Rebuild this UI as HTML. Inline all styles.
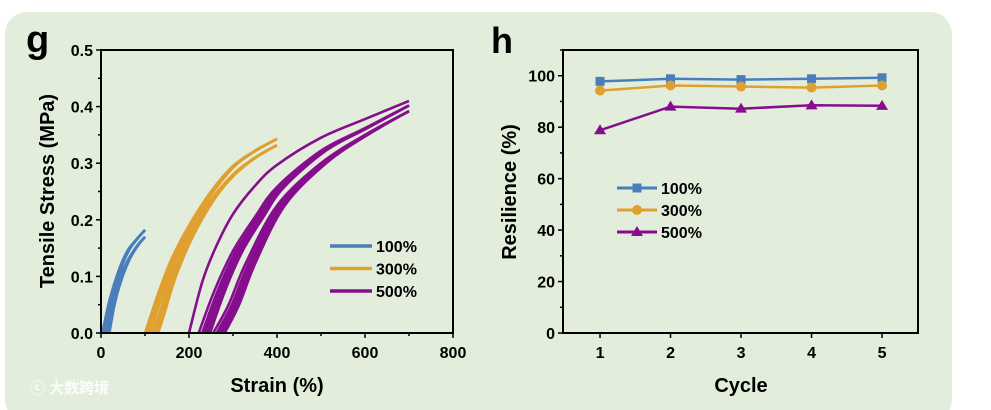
<!DOCTYPE html>
<html><head><meta charset="utf-8"><style>
html,body{margin:0;padding:0;background:#fff;}
svg{display:block;font-family:"Liberation Sans",Arial,sans-serif;font-weight:bold;}
</style></head><body>
<svg width="991" height="410" viewBox="0 0 991 410">
<rect x="5" y="12" width="947" height="410" rx="22" fill="#e2eedb"/>
<g id="gL"></g>
<g id="gR"></g>
<text x="26" y="52" font-size="38">g</text>
<text x="491" y="53" font-size="36">h</text>
<text x="30" y="393" font-size="15" fill="#fff" fill-opacity="0.85" font-family="Liberation Sans, Noto Sans CJK SC, sans-serif">ⓒ 大数跨境</text>
</svg>
<script>
// ---- Left chart data ----
const seriesNames = ["100%","300%","500%"];
const seriesColors = ["#4a7ebb","#e0a030","#860e8e"];
const xTicksL = [0,200,400,600,800];
const yTicksL = [0.0,0.1,0.2,0.3,0.4,0.5];
const yTickLabelsL = ["0.0","0.1","0.2","0.3","0.4","0.5"];
const load100 = [[3,0],[20,0.06],[40,0.11],[60,0.145],[80,0.165],[100,0.182]];
const unload100 = [[100,0.17],[80,0.152],[60,0.127],[40,0.09],[25,0.05],[12,0]];
const shift100 = [0,3,5,7];
const load300 = [[100,0],[130,0.07],[160,0.13],[200,0.19],[250,0.25],[300,0.295],[350,0.322],[400,0.343]];
const unload300 = [[400,0.332],[350,0.31],[300,0.28],[250,0.235],[200,0.17],[160,0.1],[135,0.04],[118,0]];
const shift300 = [0,5,9,12];
const firstLoad500 = [[200,0],[230,0.09],[260,0.15],[300,0.21],[350,0.26],[400,0.297],[500,0.345],[600,0.378],[700,0.41]];
const load500 = [[222,0],[258,0.075],[300,0.145],[350,0.205],[400,0.258],[500,0.322],[600,0.362],[700,0.402]];
const unload500 = [[700,0.392],[600,0.35],[500,0.3],[400,0.225],[330,0.125],[290,0.05],[255,0]];
const shift500 = [0,8,14,20,26];
// ---- Right chart data ----
const cycles = [1,2,3,4,5];
const res100 = [97.8,98.8,98.5,98.8,99.2];
const res300 = [94.2,96.2,95.8,95.4,96.2];
const res500 = [78.8,88.0,87.2,88.5,88.3];
const xTicksR = [1,2,3,4,5];
const yTicksR = [0,20,40,60,80,100];

const NS="http://www.w3.org/2000/svg";
function mk(p,tag,attrs){const e=document.createElementNS(NS,tag);for(const k in attrs)e.setAttribute(k,attrs[k]);p.appendChild(e);return e;}
function smooth(P){
  let d='M'+P[0][0].toFixed(1)+','+P[0][1].toFixed(1);
  for(let i=0;i<P.length-1;i++){
    const p0=P[i-1]||P[i],p1=P[i],p2=P[i+1],p3=P[i+2]||p2;
    const c1=[p1[0]+(p2[0]-p0[0])/6,p1[1]+(p2[1]-p0[1])/6],c2=[p2[0]-(p3[0]-p1[0])/6,p2[1]-(p3[1]-p1[1])/6];
    d+=` C${c1[0].toFixed(1)},${c1[1].toFixed(1)} ${c2[0].toFixed(1)},${c2[1].toFixed(1)} ${p2[0].toFixed(1)},${p2[1].toFixed(1)}`;
  }
  return d;
}

// Left axes
const L={x0:101,x1:453,y0:333,y1:50,xmin:0,xmax:800,ymin:0,ymax:0.5};
const sxL=v=>L.x0+(v-L.xmin)/(L.xmax-L.xmin)*(L.x1-L.x0);
const syL=v=>L.y0-(v-L.ymin)/(L.ymax-L.ymin)*(L.y0-L.y1);
const gL=document.getElementById('gL');
function curve(pts,dx,ci,name){
  const xs=pts.map(p=>p[0]);const xe=Math.max(...xs),xs0=Math.min(...xs);
  const P=pts.map(p=>[sxL(p[0]+dx*(xe-p[0])/(xe-xs0)),syL(p[1])]);
  const e=mk(gL,'path',{d:smooth(P),fill:'none',stroke:seriesColors[ci],'stroke-width':2.6,'stroke-linejoin':'round'});
  
  
}
shift100.forEach(s=>{curve(load100,s,0,'curve-100-loading');curve(unload100,s,0,'curve-100-unloading');});
shift300.forEach(s=>{curve(load300,s,1,'curve-300-loading');curve(unload300,s,1,'curve-300-unloading');});
curve(firstLoad500,0,2,'curve-500-first-loading');
shift500.forEach(s=>{curve(load500,s,2,'curve-500-loading');curve(unload500,s,2,'curve-500-unloading');});
const boxL=mk(gL,'rect',{x:L.x0,y:L.y1,width:L.x1-L.x0,height:L.y0-L.y1,fill:'none',stroke:'#000','stroke-width':2});


for(let v=0;v<=800;v+=100){const x=sxL(v);const t=mk(gL,'line',{x1:x,x2:x,y1:L.y0,y2:L.y0+(v%200?3:5),stroke:'#000','stroke-width':1.5});}
xTicksL.forEach(v=>{const t=mk(gL,'text',{x:sxL(v),y:L.y0+25,'font-size':16,'text-anchor':'middle'});t.textContent=v;});
for(let i=0;i<=10;i++){const y=syL(i*0.05);const t=mk(gL,'line',{x1:L.x0,x2:L.x0-(i%2?3:5),y1:y,y2:y,stroke:'#000','stroke-width':1.5});}
yTicksL.forEach((v,i)=>{const t=mk(gL,'text',{x:L.x0-8,y:syL(v)+6,'font-size':16,'text-anchor':'end'});t.textContent=yTickLabelsL[i];});
let t=mk(gL,'text',{x:277,y:392,'font-size':20,'text-anchor':'middle'});t.textContent='Strain (%)';


t=mk(gL,'text',{x:0,y:0,'font-size':20,'text-anchor':'middle',transform:'translate(54,191) rotate(-90)'});t.textContent='Tensile Stress (MPa)';


seriesNames.forEach((n,i)=>{const y=246+i*22.5;
  const l=mk(gL,'line',{x1:330,x2:372,y1:y,y2:y,stroke:seriesColors[i],'stroke-width':3.5});
  const tx=mk(gL,'text',{x:376,y:y+6,'font-size':16});tx.textContent=n;});

// Right axes
const R={x0:563,x1:918,y0:333,y1:50,xmin:0.475,xmax:5.51,ymin:0,ymax:110};
const sxR=v=>R.x0+(v-R.xmin)/(R.xmax-R.xmin)*(R.x1-R.x0);
const syR=v=>R.y0-(v-R.ymin)/(R.ymax-R.ymin)*(R.y0-R.y1);
const gR=document.getElementById('gR');
const bR=mk(gR,'rect',{x:R.x0,y:R.y1,width:R.x1-R.x0,height:R.y0-R.y1,fill:'none',stroke:'#000','stroke-width':2});


xTicksR.forEach(v=>{const x=sxR(v);const l=mk(gR,'line',{x1:x,x2:x,y1:R.y0,y2:R.y0+5,stroke:'#000','stroke-width':1.5});
  const tx=mk(gR,'text',{x:x,y:R.y0+25,'font-size':16,'text-anchor':'middle'});tx.textContent=v;});
for(let v=0;v<=110;v+=10){const y=syR(v);const l=mk(gR,'line',{x1:R.x0,x2:R.x0-(v%20?3:5),y1:y,y2:y,stroke:'#000','stroke-width':1.5});}
yTicksR.forEach(v=>{const tx=mk(gR,'text',{x:R.x0-8,y:syR(v)+6,'font-size':16,'text-anchor':'end'});tx.textContent=v;});
t=mk(gR,'text',{x:741,y:392,'font-size':20,'text-anchor':'middle'});t.textContent='Cycle';


t=mk(gR,'text',{x:0,y:0,'font-size':20,'text-anchor':'middle',transform:'translate(516,192) rotate(-90)'});t.textContent='Resilience (%)';


function marker(p,type,x,y,c){
  let e;
  if(type==0)e=mk(p,'rect',{x:x-4.5,y:y-4.5,width:9,height:9,fill:c});
  else if(type==1)e=mk(p,'circle',{cx:x,cy:y,r:5,fill:c});
  else e=mk(p,'polygon',{points:`${x},${y-6} ${x-6},${y+4} ${x+6},${y+4}`,fill:c});
  
  
}
[res100,res300,res500].forEach((arr,i)=>{
  const d=arr.map((v,j)=>(j?'L':'M')+sxR(cycles[j]).toFixed(1)+','+syR(v).toFixed(1)).join(' ');
  const p=mk(gR,'path',{d:d,fill:'none',stroke:seriesColors[i],'stroke-width':2.5});
  
  
  arr.forEach((v,j)=>marker(gR,i,sxR(cycles[j]),syR(v),seriesColors[i]));
  const y=188+i*22;
  const l=mk(gR,'line',{x1:617,x2:657,y1:y,y2:y,stroke:seriesColors[i],'stroke-width':3});
  marker(gR,i,637,y,seriesColors[i]);
  const tx=mk(gR,'text',{x:661,y:y+6,'font-size':16});tx.textContent=seriesNames[i];
});
</script>
</body></html>
